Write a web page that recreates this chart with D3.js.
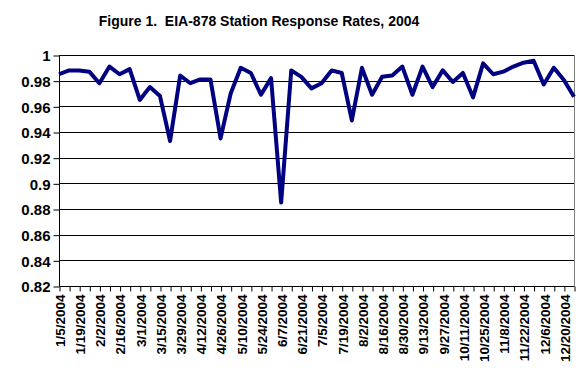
<!DOCTYPE html>
<html>
<head>
<meta charset="utf-8">
<script src="https://cdn.jsdelivr.net/npm/d3@7"></script>
<style>
  body { margin: 0; background: #fff; }
  text { font-family: "Liberation Sans", Arial, sans-serif; font-weight: bold; fill: #000; }
</style>
</head>
<body>
<div id="chart"></div>
<script>
// Chart data: weekly survey dates and station response rates
var weeks = [
  "1/5/2004", "1/12/2004", "1/19/2004", "1/26/2004", "2/2/2004", "2/9/2004",
  "2/16/2004", "2/23/2004", "3/1/2004", "3/8/2004", "3/15/2004", "3/22/2004",
  "3/29/2004", "4/5/2004", "4/12/2004", "4/19/2004", "4/26/2004", "5/3/2004",
  "5/10/2004", "5/17/2004", "5/24/2004", "5/31/2004", "6/7/2004", "6/14/2004",
  "6/21/2004", "6/28/2004", "7/5/2004", "7/12/2004", "7/19/2004", "7/26/2004",
  "8/2/2004", "8/9/2004", "8/16/2004", "8/23/2004", "8/30/2004", "9/6/2004",
  "9/13/2004", "9/20/2004", "9/27/2004", "10/4/2004", "10/11/2004", "10/18/2004",
  "10/25/2004", "11/1/2004", "11/8/2004", "11/15/2004", "11/22/2004", "11/29/2004",
  "12/6/2004", "12/13/2004", "12/20/2004", "12/27/2004"
];
var responseRates = [
  0.985, 0.988, 0.988, 0.987, 0.978, 0.991, 0.985, 0.989, 0.965, 0.975,
  0.968, 0.933, 0.984, 0.978, 0.981, 0.981, 0.935, 0.970, 0.990, 0.986,
  0.969, 0.982, 0.885, 0.988, 0.983, 0.974, 0.978, 0.988, 0.986, 0.949,
  0.990, 0.969, 0.983, 0.984, 0.991, 0.969, 0.991, 0.975, 0.988, 0.979,
  0.986, 0.967, 0.9935, 0.985, 0.987, 0.991, 0.994, 0.9955, 0.977, 0.990,
  0.9805, 0.9675
];
var yTicks = [0.82, 0.84, 0.86, 0.88, 0.9, 0.92, 0.94, 0.96, 0.98, 1];
var chartTitle = "Figure 1.  EIA-878 Station Response Rates, 2004";

// SVG area
var svgWidth = 588;
var svgHeight = 371;

// Plot area bounds
var plot = { left: 59, right: 574, top: 55, bottom: 286 };

var svg = d3.select("#chart")
  .append("svg")
  .attr("width", svgWidth)
  .attr("height", svgHeight);

// Scales
var x = d3.scalePoint()
  .domain(weeks)
  .range([plot.left, plot.right]);

var y = d3.scaleLinear()
  .domain([0.82, 1])
  .range([plot.bottom, plot.top]);

// Title (keep the double space after "1.")
svg.append("text")
  .attr("x", 259)
  .attr("y", 26)
  .attr("text-anchor", "middle")
  .style("font-size", "14px")
  .style("white-space", "pre")
  .text(chartTitle);

// Gridlines
svg.append("g")
  .selectAll("line")
  .data(yTicks.slice(1))
  .join("line")
  .attr("x1", plot.left)
  .attr("x2", plot.right)
  .attr("y1", d => Math.round(y(d)) + 0.5)
  .attr("y2", d => Math.round(y(d)) + 0.5)
  .attr("stroke", "#000")
  .attr("stroke-width", 1);

// Right border of plot area
svg.append("line")
  .attr("x1", plot.right + 0.5)
  .attr("x2", plot.right + 0.5)
  .attr("y1", plot.top)
  .attr("y2", plot.bottom)
  .attr("stroke", "#808080");

// Y axis
var yAxis = svg.append("g")
  .attr("transform", `translate(${plot.left + 0.5},0.5)`)
  .call(d3.axisLeft(y)
    .tickValues(yTicks)
    .tickSize(6)
    .tickPadding(3)
    .tickFormat(d => String(+d.toFixed(2))));
yAxis.select(".domain").attr("stroke", "#000").attr("d", `M0,${plot.top}V${plot.bottom}`);
yAxis.selectAll("line").attr("stroke", "#000");
yAxis.selectAll("text")
  .style("font-size", "15px")
  .style("font-family", "Liberation Sans, Arial, sans-serif")
  .style("font-weight", "bold")
  .attr("dy", "0.36em");

// X axis: tick for every week, label every second week
var xAxis = svg.append("g")
  .attr("transform", `translate(0.5,${plot.bottom + 0.5})`)
  .call(d3.axisBottom(x)
    .tickSize(5)
    .tickFormat((d, i) => i % 2 === 0 ? d : ""));
xAxis.select(".domain").attr("stroke", "#000").attr("d", `M${plot.left},0H${plot.right}`);
xAxis.selectAll("line").attr("stroke", "#000");
xAxis.selectAll("text")
  .style("font-size", "13.5px")
  .style("font-family", "Liberation Sans, Arial, sans-serif")
  .style("font-weight", "bold")
  .attr("text-anchor", "end")
  .attr("transform", "rotate(-90)")
  .attr("x", -8)
  .attr("y", 0)
  .attr("dy", "0.36em");

// Response rate line
var line = d3.line()
  .x((d, i) => x(weeks[i]))
  .y(d => y(d));

svg.append("path")
  .datum(responseRates)
  .attr("d", line)
  .attr("fill", "none")
  .attr("stroke", "#000080")
  .attr("stroke-width", 4)
  .attr("stroke-linejoin", "round");
</script>
</body>
</html>
